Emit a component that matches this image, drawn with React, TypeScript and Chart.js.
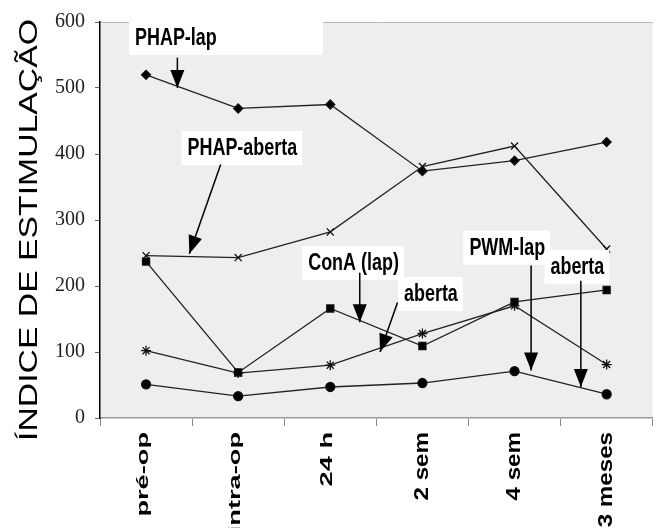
import React, { useEffect, useRef } from 'react';
import { Chart, registerables } from 'chart.js';
Chart.register(...registerables);

const categories = ['pré-op', 'intra-op', '24 h', '2 sem', '4 sem', '3 meses'];
const phapLap = [520, 469, 475, 374, 390, 418];
const phapAberta = [246, 243, 282, 381, 412, 256];
const conALap = [237, 69, 166, 109, 176, 194];
const conAAberta = [102, 68, 80, 128, 170, 81];
const pwmLap = [51, 33, 47, 53, 71, 36];
const yTicks = [0, 100, 200, 300, 400, 500, 600];
const yTitle = 'ÍNDICE DE ESTIMULAÇÃO';

// annotation labels: text position (category index, value), arrow start -> tip
const noteTexts = ['PHAP-lap', 'PHAP-aberta', 'ConA (lap)', 'aberta', 'PWM-lap', 'aberta'];
const noteX = [-0.12, 0.45, 1.76, 2.8, 3.51, 4.39];
const noteY = [576, 409, 235, 188, 258, 229];
const noteBoxRight = [1.92, null, null, null, null, null];
const arrowFromX = [0.34, 0.81, 2.32, 2.73, 4.18, 4.72];
const arrowFromY = [546, 384, 220, 175, 231, 208];
const arrowToX = [0.34, 0.47, 2.32, 2.54, 4.18, 4.72];
const arrowToY = [500, 249, 145, 100, 72, 47];

const SANS = '"Liberation Sans", Arial, sans-serif';

const annotPlugin = {
  id: 'annot',
  beforeDraw(chart: any) {
    const { ctx, chartArea: a } = chart;
    ctx.save();
    ctx.fillStyle = '#eeeeee';
    ctx.fillRect(a.left, a.top, a.right - a.left, a.bottom - a.top);
    ctx.strokeStyle = '#bbbbbb';
    ctx.lineWidth = 1;
    ctx.beginPath();
    ctx.moveTo(a.left, a.top + 0.5);
    ctx.lineTo(a.right, a.top + 0.5);
    ctx.stroke();
    ctx.restore();
  },
  afterDraw(chart: any) {
    const { ctx, chartArea: a } = chart;
    const xs = chart.scales.x;
    ctx.save();
    // y title, stretched along its length
    ctx.save();
    ctx.translate(30, (a.top + a.bottom) / 2 + 10);
    ctx.rotate(-Math.PI / 2);
    ctx.scale(1.35, 1);
    ctx.font = `25px ${SANS}`;
    ctx.fillStyle = '#000';
    ctx.textAlign = 'center';
    ctx.textBaseline = 'middle';
    ctx.fillText(yTitle, 0, 0);
    ctx.restore();
    // x labels, rotated and stretched
    categories.forEach((c, i) => {
      const px = xs.getPixelForValue(i);
      const big = i >= 3;
      ctx.save();
      ctx.translate(px - (big ? 0 : 3), a.bottom + 14);
      ctx.rotate(-Math.PI / 2);
      ctx.scale(big ? 1.15 : 1.6, 1);
      ctx.font = `bold ${big ? 21 : 17}px ${SANS}`;
      ctx.fillStyle = '#000';
      ctx.textAlign = 'right';
      ctx.textBaseline = 'middle';
      ctx.fillText(c, 0, 0);
      ctx.restore();
    });
    ctx.restore();
  },
  afterDatasetsDraw(chart: any) {
    const { ctx } = chart;
    const xs = chart.scales.x;
    const ys = chart.scales.y;
    ctx.save();
    const sx = 0.78;
    ctx.font = `bold 23px ${SANS}`;
    ctx.textBaseline = 'middle';
    noteTexts.forEach((t, i) => {
      const px = xs.getPixelForValue(noteX[i]);
      const py = ys.getPixelForValue(noteY[i]);
      const w = ctx.measureText(t).width * sx;
      let right = px + w + 5;
      if (noteBoxRight[i] != null) right = xs.getPixelForValue(noteBoxRight[i] as number);
      ctx.fillStyle = '#ffffff';
      ctx.fillRect(px - 6, py - 17, right - px + 6, 34);
      const x0 = xs.getPixelForValue(arrowFromX[i]);
      const y0 = ys.getPixelForValue(arrowFromY[i]);
      const x1 = xs.getPixelForValue(arrowToX[i]);
      const y1 = ys.getPixelForValue(arrowToY[i]);
      ctx.strokeStyle = '#000';
      ctx.lineWidth = 1.5;
      ctx.beginPath();
      ctx.moveTo(x0, y0);
      ctx.lineTo(x1, y1);
      ctx.stroke();
      const ang = Math.atan2(y1 - y0, x1 - x0);
      const L = 18, W = 7;
      ctx.fillStyle = '#000';
      ctx.beginPath();
      ctx.moveTo(x1, y1);
      ctx.lineTo(x1 - L * Math.cos(ang) + W * Math.sin(ang), y1 - L * Math.sin(ang) - W * Math.cos(ang));
      ctx.lineTo(x1 - L * Math.cos(ang) - W * Math.sin(ang), y1 - L * Math.sin(ang) + W * Math.cos(ang));
      ctx.closePath();
      ctx.fill();
    });
    noteTexts.forEach((t, i) => {
      const px = xs.getPixelForValue(noteX[i]);
      const py = ys.getPixelForValue(noteY[i]);
      ctx.save();
      ctx.translate(px, py);
      ctx.scale(sx, 1);
      ctx.fillStyle = '#000';
      ctx.textAlign = 'left';
      ctx.fillText(t, 0, 1);
      ctx.restore();
    });
    ctx.restore();
  },
};

export default function App() {
  const ref = useRef<HTMLCanvasElement>(null);
  useEffect(() => {
    document.body.style.margin = '0';
    const lineStyle = (pointStyle: string, radius: number) => ({
      borderColor: '#222',
      backgroundColor: '#000',
      pointBackgroundColor: '#000',
      pointBorderColor: '#111',
      borderWidth: 1.3,
      pointStyle,
      pointRadius: radius,
      pointBorderWidth: 1.3,
      tension: 0,
    });
    const chart = new Chart(ref.current!, {
      type: 'line',
      data: {
        labels: categories,
        datasets: [
          { label: 'PHAP-lap', data: phapLap, ...lineStyle('rectRot', 4.5) },
          { label: 'PHAP-aberta', data: phapAberta, ...lineStyle('crossRot', 5) },
          { label: 'ConA (lap)', data: conALap, ...lineStyle('rect', 5) },
          { label: 'ConA aberta', data: conAAberta, ...lineStyle('star', 5) },
          { label: 'PWM-lap', data: pwmLap, ...lineStyle('circle', 4.5) },
        ],
      },
      options: {
        animation: false,
        responsive: false,
        maintainAspectRatio: false,
        layout: { padding: { top: 20, right: 1, left: 0, bottom: 0 } },
        plugins: { legend: { display: false }, tooltip: { enabled: false } },
        scales: {
          x: {
            offset: true,
            grid: { offset: true, drawOnChartArea: false, drawTicks: true, tickLength: 8, color: '#888' },
            border: { color: '#999', width: 1.5 },
            ticks: { display: false },
            afterFit(s: any) { s.height = 110; },
          },
          y: {
            min: 0,
            max: 600,
            afterBuildTicks(s: any) { s.ticks = yTicks.map((v) => ({ value: v })); },
            grid: { drawOnChartArea: false, drawTicks: true, tickLength: 5, color: '#666' },
            border: { color: '#000', width: 1.5 },
            ticks: {
              color: '#222',
              padding: 10,
              font: { family: '"Liberation Serif", "Times New Roman", serif', size: 20 },
            },
            afterFit(s: any) { s.width = 100; },
          },
        },
      },
      plugins: [annotPlugin],
    } as any);
    return () => chart.destroy();
  }, []);
  return (
    <div style={{ position: 'absolute', left: 0, top: 0, width: 659, height: 528, background: '#fff' }}>
      <canvas ref={ref} width={659} height={528} style={{ width: 659, height: 528 }} />
    </div>
  );
}
